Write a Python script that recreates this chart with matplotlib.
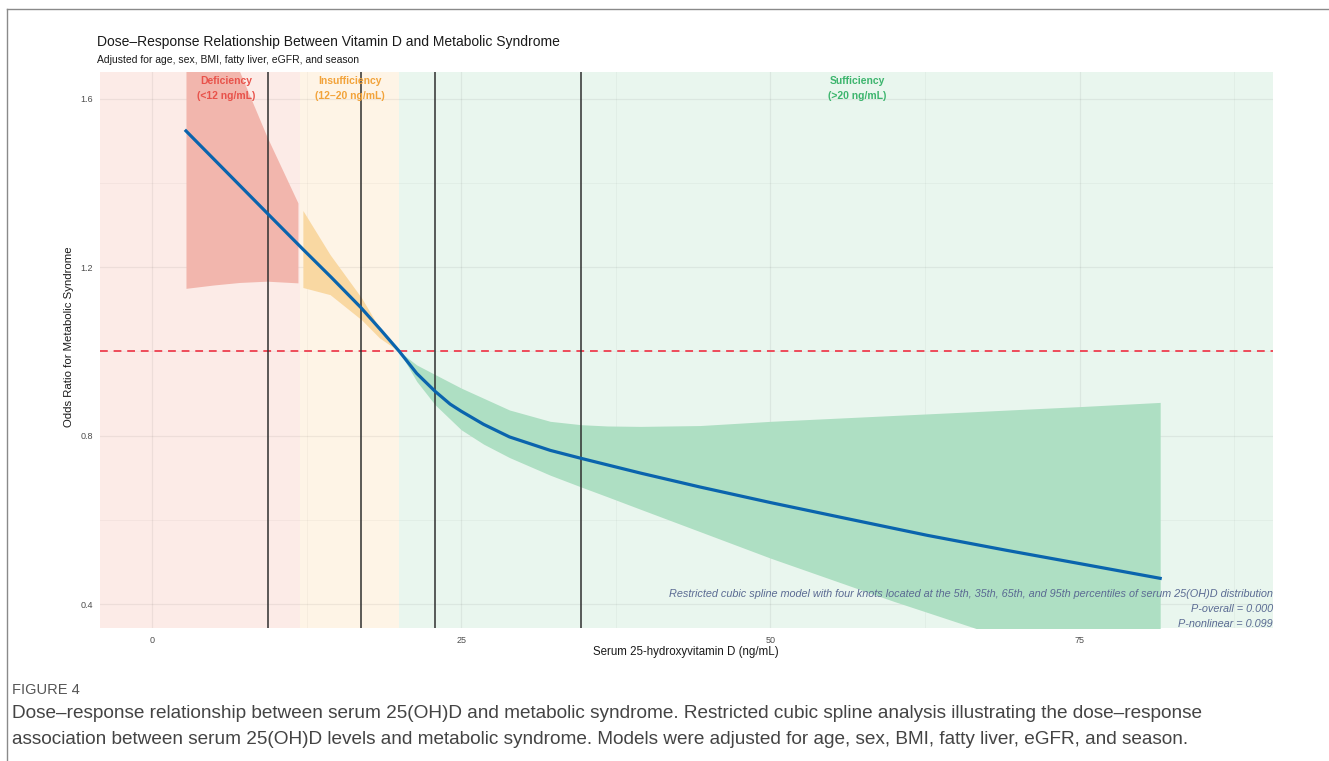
import matplotlib
matplotlib.use("Agg")
import matplotlib.pyplot as plt
from matplotlib.lines import Line2D

# spline estimate (odds ratio)
curve_x = [2.75, 9.4, 12.2, 14.5, 16.9, 18.5, 20, 21.4, 22.9, 24.1, 25, 26.8, 28.9,
           32.2, 34.7, 39.5, 44.3, 50, 56, 62.7, 69, 75, 81.5]
curve_or = [1.524, 1.326, 1.243, 1.176, 1.104, 1.051, 1.0, 0.948, 0.905, 0.875, 0.858,
            0.827, 0.797, 0.765, 0.746, 0.711, 0.678, 0.641, 0.604, 0.563, 0.528,
            0.496, 0.461]

# 95% CI, split by vitamin D status
def_x = [2.75, 5, 7.1, 9.3, 11.8]
def_lo = [1.150, 1.158, 1.164, 1.167, 1.163]
def_hi = [1.97, 1.81, 1.664, 1.51, 1.353]

ins_x = [12.2, 14.4, 16.95, 18.4, 20]
ins_lo = [1.152, 1.135, 1.075, 1.032, 1.0]
ins_hi = [1.335, 1.23, 1.127, 1.055, 1.0]

suf_x = [20, 21.4, 22.9, 25, 26.8, 28.9, 32.2, 34.7, 36.8, 39.5, 44.3, 50, 60, 66.5,
         70, 75, 81.5]
suf_lo = [1.0, 0.929, 0.873, 0.814, 0.780, 0.748, 0.706, 0.678, 0.655, 0.625, 0.572,
          0.509, 0.406, 0.343, 0.31, 0.26, 0.195]
suf_hi = [1.0, 0.968, 0.945, 0.913, 0.889, 0.861, 0.834, 0.826, 0.823, 0.822, 0.824,
          0.834, 0.848, 0.857, 0.862, 0.869, 0.879]

knots = [9.4, 16.9, 22.9, 34.7]
cutoffs = [12, 20]

zone_labels = ["Deficiency\n(<12 ng/mL)", "Insufficiency\n(12\u201320 ng/mL)",
               "Sufficiency\n(>20 ng/mL)"]
zone_label_x = [6, 16, 57]

x_ticks = [0, 25, 50, 75]
y_ticks = [0.4, 0.8, 1.2, 1.6]

note_lines = [
    "Restricted cubic spline model with four knots located at the 5th, 35th, 65th, "
    "and 95th percentiles of serum 25(OH)D distribution",
    "P-overall = 0.000",
    "P-nonlinear = 0.099",
]

caption_lines = [
    "Dose\u2013response relationship between serum 25(OH)D and metabolic syndrome. "
    "Restricted cubic spline analysis illustrating the dose\u2013response",
    "association between serum 25(OH)D levels and metabolic syndrome. Models were "
    "adjusted for age, sex, BMI, fatty liver, eGFR, and season.",
]

RED = "#e8524a"
ORANGE = "#f2a33a"
GREEN = "#3db56e"
BLUE = "#0a64ad"

plt.rcParams["font.family"] = ["Liberation Sans", "DejaVu Sans"]

W, H = 1329, 761
fig = plt.figure(figsize=(W / 100, H / 100), dpi=100)


def fx(px):
    return px / W


def fy(py):
    return 1 - py / H


ax = fig.add_axes([fx(100), fy(628), fx(1273) - fx(100), fy(72) - fy(628)])
xmin, xmax = -4.2, 90.62
ymin, ymax = 0.343, 1.664
ax.set_xlim(xmin, xmax)
ax.set_ylim(ymin, ymax)

# zone backgrounds
ax.axvspan(xmin, cutoffs[0], color="#fcebe7", lw=0, zorder=0)
ax.axvspan(cutoffs[0], cutoffs[1], color="#fef4e6", lw=0, zorder=0)
ax.axvspan(cutoffs[1], xmax, color="#e9f6ee", lw=0, zorder=0)

# grid
ax.set_xticks(x_ticks)
ax.set_yticks(y_ticks)
ax.set_xticks([12.5, 37.5, 62.5, 87.5], minor=True)
ax.set_yticks([0.6, 1.0, 1.4], minor=True)
ax.grid(True, which="major", color="black", alpha=0.06, lw=0.9, zorder=0.5)
ax.grid(True, which="minor", color="black", alpha=0.04, lw=0.6, zorder=0.5)
ax.set_axisbelow(True)

# confidence bands
ax.fill_between(def_x, def_lo, def_hi, color="#f2b6ad", lw=0, zorder=1)
ax.fill_between(ins_x, ins_lo, ins_hi, color="#f9d8a2", lw=0, zorder=1)
ax.fill_between(suf_x, suf_lo, suf_hi, color="#aedfc3", lw=0, zorder=1)

ax.axhline(1.0, color="#ee4b5a", lw=1.4, ls=(0, (4, 3)), zorder=2)
for k in knots:
    ax.axvline(k, color="#2f2f2f", lw=1.1, zorder=3)

ax.plot(curve_x, curve_or, color=BLUE, lw=2.3, zorder=4, solid_joinstyle="round")

for lab, lx, c in zip(zone_labels, zone_label_x, [RED, ORANGE, GREEN]):
    ax.text(lx, 1.655, lab, color=c, fontsize=7.5, fontweight="bold", ha="center",
            va="top", linespacing=1.6, zorder=5)

for line, ypx in zip(note_lines, [594, 609, 624]):
    ax.text(1.0, (628 - ypx) / 556, line, transform=ax.transAxes, ha="right",
            va="center", fontsize=7.8, style="italic", color="#5b6b93", zorder=5)

for s in ax.spines.values():
    s.set_visible(False)
ax.tick_params(which="both", length=0, labelsize=6.5, labelcolor="#4d4d4d")
ax.tick_params(axis="x", pad=6)
ax.tick_params(axis="y", pad=5)

fig.text(fx(97), fy(42), "Dose\u2013Response Relationship Between Vitamin D and Metabolic Syndrome",
         fontsize=10, ha="left", va="center", color="#1a1a1a")
fig.text(fx(97), fy(60), "Adjusted for age, sex, BMI, fatty liver, eGFR, and season",
         fontsize=7.5, ha="left", va="center", color="#1a1a1a")
fig.text(fx(686), fy(652), "Serum 25-hydroxyvitamin D (ng/mL)", fontsize=8.3,
         ha="center", va="center", color="#1a1a1a")
fig.text(fx(69), fy(337), "Odds Ratio for Metabolic Syndrome", fontsize=8.2,
         rotation=90, ha="center", va="center", color="#1a1a1a")

# caption below the chart
fig.text(fx(12), fy(690), "FIGURE 4", fontsize=10.5, ha="left", va="center",
         color="#555555")
for line, ypx in zip(caption_lines, [713, 739]):
    fig.text(fx(12), fy(ypx), line, fontsize=13.7, ha="left", va="center",
             color="#444444")

# thin frame at top and left
fig.add_artist(Line2D([fx(7), 1], [fy(9), fy(9)], color="#8a8a8a", lw=1))
fig.add_artist(Line2D([fx(7), fx(7)], [fy(9), 0], color="#8a8a8a", lw=1))

fig.savefig("out.png", dpi=100)
plt.close(fig)
